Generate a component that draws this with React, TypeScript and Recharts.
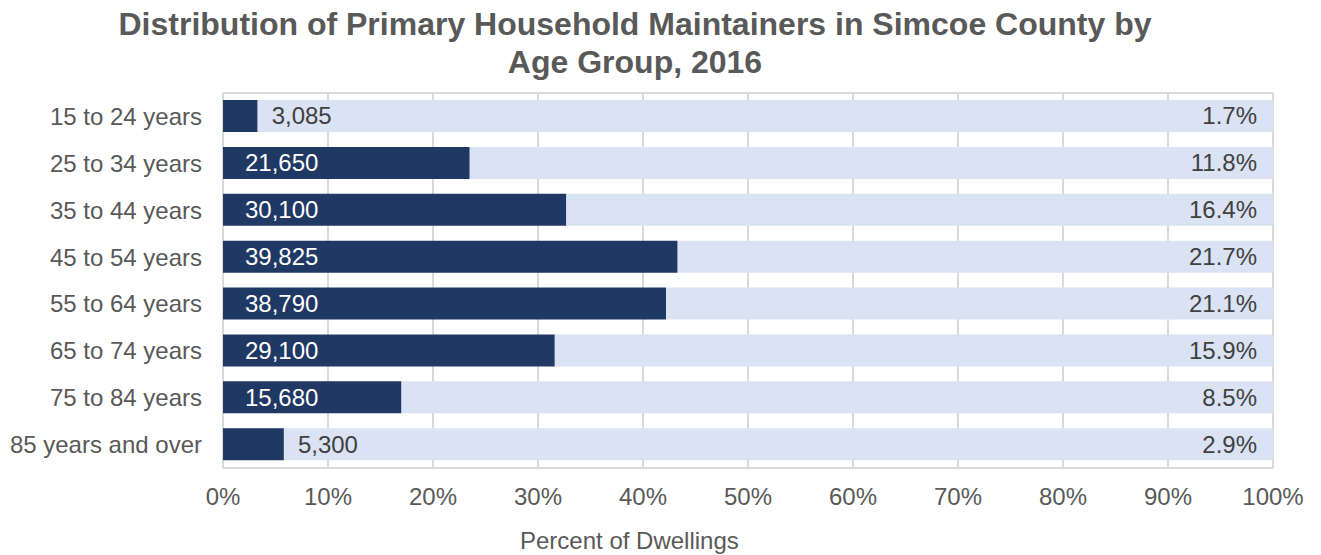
import React from 'react';
import { BarChart, Bar, XAxis, YAxis, CartesianGrid, LabelList } from 'recharts';

const ageGroups = [
  '15 to 24 years', '25 to 34 years', '35 to 44 years', '45 to 54 years',
  '55 to 64 years', '65 to 74 years', '75 to 84 years', '85 years and over',
];
// dark bar length (%)
const barLengths = [3.3, 23.5, 32.7, 43.3, 42.2, 31.6, 17.0, 5.8];
const dwellingCounts = ['3,085', '21,650', '30,100', '39,825', '38,790', '29,100', '15,680', '5,300'];
const shareLabels = ['1.7%', '11.8%', '16.4%', '21.7%', '21.1%', '15.9%', '8.5%', '2.9%'];
const xTicks = [0, 10, 20, 30, 40, 50, 60, 70, 80, 90, 100];

const data = ageGroups.map((g, i) => ({
  group: g,
  bar: barLengths[i],
  rest: 100 - barLengths[i],
  count: dwellingCounts[i],
  pct: shareLabels[i],
}));

const FONT = '"Liberation Sans", Arial, sans-serif';

const CountLabel = (props: any) => {
  const { x, y, width, height, value } = props;
  const inside = width > 90;
  return (
    <text
      x={inside ? x + 22 : x + width + 14}
      y={y + height / 2}
      dy="0.35em"
      fill={inside ? '#ffffff' : '#404040'}
      fontSize={24}
      fontFamily={FONT}
    >
      {value}
    </text>
  );
};

const PctLabel = (props: any) => {
  const { x, y, width, height, value } = props;
  return (
    <text
      x={x + width - 16}
      y={y + height / 2}
      dy="0.35em"
      textAnchor="end"
      fill="#404040"
      fontSize={24}
      fontFamily={FONT}
    >
      {value}
    </text>
  );
};

export default function App() {
  return (
    <div style={{ position: 'absolute', left: 0, top: 0, width: 1321, height: 555, background: '#fff', fontFamily: FONT }}>
      <div
        style={{
          position: 'absolute', left: 0, width: 1270, top: 5, textAlign: 'center',
          fontSize: 32, fontWeight: 'bold', color: '#595959', lineHeight: '38px',
        }}
      >
        Distribution of Primary Household Maintainers in Simcoe County by
        <br />
        Age Group, 2016
      </div>
      <BarChart
        width={1321}
        height={555}
        data={data}
        layout="vertical"
        margin={{ top: 93, right: 48, bottom: 0, left: 10 }}
        barSize={32}
      >
        <CartesianGrid
          horizontal={true}
          vertical={true}
          horizontalPoints={[93, 468]}
          stroke="#d9d9d9"
          strokeWidth={2}
        />
        <XAxis
          type="number"
          domain={[0, 100]}
          ticks={xTicks}
          tickFormatter={(v: number) => `${v}%`}
          axisLine={{ stroke: '#d9d9d9', strokeWidth: 2 }}
          tickLine={false}
          tickSize={0}
          tickMargin={20}
          height={87}
          tick={{ fill: '#595959', fontSize: 24, fontFamily: FONT }}
        />
        <YAxis
          type="category"
          dataKey="group"
          width={213}
          axisLine={false}
          tickLine={false}
          tickSize={0}
          tickMargin={21}
          tick={{ fill: '#595959', fontSize: 24, fontFamily: FONT }}
        />
        <Bar dataKey="bar" stackId="a" fill="#203864" isAnimationActive={false}>
          <LabelList dataKey="count" content={CountLabel} />
        </Bar>
        <Bar dataKey="rest" stackId="a" fill="#dae3f3" isAnimationActive={false}>
          <LabelList dataKey="pct" content={PctLabel} />
        </Bar>
      </BarChart>
      <div
        style={{
          position: 'absolute', left: 520, top: 527, fontSize: 24, color: '#595959', whiteSpace: 'nowrap',
        }}
      >
        Percent of Dwellings
      </div>
    </div>
  );
}
